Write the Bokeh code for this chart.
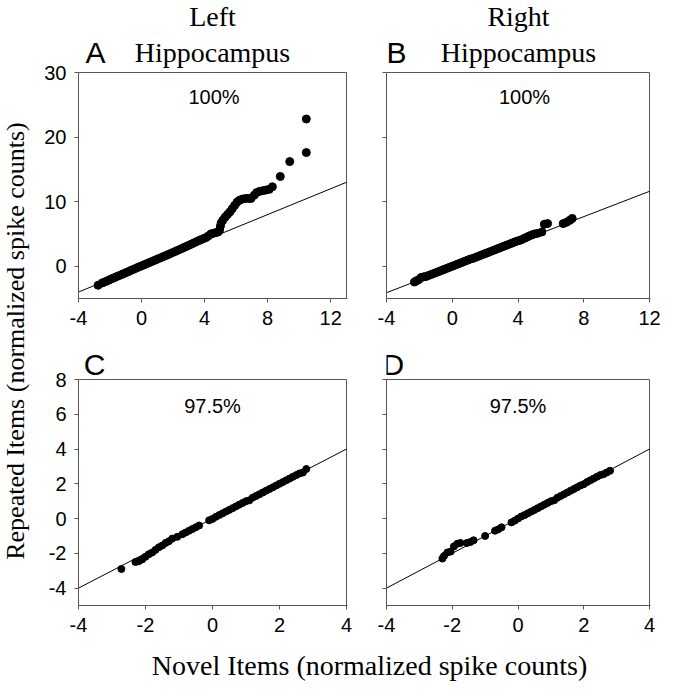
from math import pi
from bokeh.plotting import figure
from bokeh.layouts import row, column
from bokeh.models import Range1d, FixedTicker, CustomJSTickFormatter
from bokeh.core.properties import value
from bokeh.embed import file_html
from bokeh.resources import INLINE

# ---------------- data ----------------
a_x = [-2.76, -2.5, -2.35, -2.2, -2.05, -1.9, -1.75, -1.6, -1.45, -1.3,
       -1.15, -1.0, -0.85, -0.7, -0.55, -0.4, -0.25, -0.1, 0.05, 0.2,
       0.35, 0.5, 0.65, 0.8, 0.95, 1.1, 1.25, 1.4, 1.55, 1.7,
       1.85, 2.0, 2.15, 2.3, 2.45, 2.6, 2.75, 2.9, 3.05, 3.2,
       3.35, 3.5, 3.65, 3.8, 3.95,
       4.1, 4.25, 4.4, 4.55, 4.7, 4.85, 4.95, 5.0, 5.05, 5.15,
       5.3, 5.45, 5.6, 5.75, 5.9, 6.05, 6.2, 6.4, 6.6, 6.8,
       6.95, 7.15, 7.3, 7.5, 7.7, 7.9, 8.1, 8.3, 8.8, 9.4,
       10.45, 10.45]
a_y = [-2.95, -2.6, -2.45, -2.3, -2.12, -1.95, -1.8, -1.63, -1.48, -1.32,
       -1.17, -1.0, -0.85, -0.68, -0.52, -0.37, -0.2, -0.05, 0.1, 0.26,
       0.42, 0.57, 0.73, 0.88, 1.04, 1.2, 1.35, 1.5, 1.66, 1.82,
       1.98, 2.14, 2.3, 2.46, 2.62, 2.8, 2.96, 3.12, 3.3, 3.47,
       3.64, 3.82, 3.98, 4.15, 4.3,
       4.45, 4.7, 5.0, 5.1, 5.2, 5.3, 5.6, 6.2, 6.7, 7.1,
       7.6, 8.0, 8.4, 8.9, 9.4, 9.9, 10.2, 10.4, 10.5, 10.5,
       10.5, 11.0, 11.4, 11.6, 11.7, 11.8, 11.9, 12.3, 13.9, 16.2,
       17.6, 22.8]

b_x = [-2.3, -2.2, -2.05, -1.9, -1.75, -1.6, -1.45, -1.3, -1.15, -1.0,
       -0.85, -0.7, -0.55, -0.4, -0.25, -0.1, 0.05, 0.2, 0.35, 0.5,
       0.65, 0.8, 0.95, 1.1, 1.25, 1.4, 1.55, 1.7, 1.85, 2.0,
       2.15, 2.3, 2.45, 2.6, 2.75, 2.9, 3.05, 3.2, 3.35, 3.5,
       3.65, 3.8, 3.95, 4.1, 4.25, 4.4, 4.55, 4.7, 4.85, 5.0,
       5.2, 5.45, 5.6, 5.8, 6.75, 6.95, 7.15, 7.3]
b_y = [-2.45, -2.3, -2.1, -1.75, -1.65, -1.6, -1.45, -1.3, -1.15, -1.0,
       -0.85, -0.7, -0.55, -0.4, -0.25, -0.1, 0.05, 0.2, 0.35, 0.5,
       0.65, 0.8, 0.95, 1.1, 1.2, 1.35, 1.5, 1.65, 1.8, 1.95,
       2.1, 2.25, 2.4, 2.55, 2.7, 2.85, 3.0, 3.15, 3.3, 3.45,
       3.6, 3.75, 3.9, 4.0, 4.15, 4.35, 4.5, 4.7, 4.85, 5.0,
       5.1, 5.3, 6.5, 6.6, 6.6, 6.8, 7.1, 7.4]

c_x = [-2.72, -2.3, -2.2, -2.1, -2.0, -1.9, -1.8, -1.7, -1.6, -1.5,
       -1.4, -1.3, -1.2, -1.05, -0.9, -0.8, -0.7, -0.6, -0.5, -0.4,
       -0.1, 0.0, 0.1, 0.2, 0.3, 0.4, 0.5, 0.6, 0.7, 0.8,
       0.9, 1.0, 1.1, 1.2, 1.3, 1.4, 1.5, 1.6, 1.7, 1.8,
       1.9, 2.0, 2.1, 2.2, 2.3, 2.4, 2.5, 2.6, 2.7, 2.8]
c_y = [-2.9, -2.5, -2.45, -2.35, -2.2, -2.05, -1.95, -1.8, -1.65, -1.55,
       -1.4, -1.3, -1.15, -1.05, -0.9, -0.8, -0.7, -0.6, -0.5, -0.4,
       -0.1, -0.02, 0.1, 0.2, 0.3, 0.4, 0.5, 0.6, 0.7, 0.8,
       0.9, 1.0, 1.05, 1.2, 1.3, 1.4, 1.5, 1.6, 1.7, 1.8,
       1.9, 2.0, 2.1, 2.2, 2.3, 2.4, 2.5, 2.6, 2.65, 2.85]

d_x = [-2.3, -2.25, -2.15, -2.05, -1.95, -1.85, -1.75, -1.55, -1.45, -1.35,
       -1.0, -0.7, -0.6, -0.5, -0.2, -0.1, 0.0, 0.1, 0.2, 0.3,
       0.4, 0.5, 0.6, 0.7, 0.8, 0.9, 1.0, 1.1, 1.2, 1.3,
       1.4, 1.5, 1.6, 1.7, 1.8, 1.9, 2.0, 2.1, 2.2, 2.3,
       2.4, 2.5, 2.6, 2.7, 2.8]
d_y = [-2.3, -2.15, -1.95, -1.9, -1.6, -1.45, -1.4, -1.4, -1.35, -1.25,
       -1.0, -0.7, -0.62, -0.5, -0.22, -0.12, 0.0, 0.12, 0.2, 0.3,
       0.4, 0.5, 0.6, 0.7, 0.8, 0.9, 1.0, 1.05, 1.2, 1.3,
       1.4, 1.5, 1.6, 1.7, 1.8, 1.9, 1.98, 2.1, 2.2, 2.3,
       2.4, 2.5, 2.55, 2.65, 2.75]

# reference (identity / fit) lines
a_line_x, a_line_y = [-4, 13], [-4, 13]
b_line_x, b_line_y = [-4, 12], [-4.1, 11.6]
c_line_x, c_line_y = [-4, 4], [-4, 4]
d_line_x, d_line_y = [-4, 4], [-4, 4]

# axis limits of each panel
a_xlim, a_ylim = (-4, 13), (-5, 30)
b_xlim, b_ylim = (-4, 12), (-5, 30)
c_xlim, c_ylim = (-4, 4), (-5, 8)
d_xlim, d_ylim = (-4, 4), (-5, 8)

top_x_ticks = [-4, 0, 4, 8, 12]
top_y_ticks = [0, 10, 20, 30]
bot_x_ticks = [-4, -2, 0, 2, 4]
bot_y_ticks = [-4, -2, 0, 2, 4, 6, 8]

pct_top = "100%"
pct_bot = "97.5%"
col_titles = [("Left", "Hippocampus"), ("Right", "Hippocampus")]
panel_letters = ["A", "B", "C", "D"]
x_label = "Novel Items (normalized spike counts)"
y_label = "Repeated Items (normalized spike counts)"

# ---------------- styling / layout ----------------
SERIF = "Liberation Serif"
SANS = "Liberation Sans"
FRAME = "#555555"
TICK_PX = "20px"
BOX_PX = 226          # height of the boxed plotting area, px


def strip(w, h):
    f = figure(width=w, height=h, x_range=Range1d(0, w), y_range=Range1d(0, h),
               output_backend="svg", toolbar_location=None, min_border=0,
               x_axis_location=None, y_axis_location=None)
    f.grid.visible = False
    f.outline_line_color = None
    return f


def panel(xlim, ylim, xt, yt, fw, head_px, mbl, mbr, show_y=True):
    """Panel whose frame also covers head_px pixels above the axes box
    (room for the titles); the box is drawn with a quad, the y axis is bounded."""
    fw_px = fw + 1
    x_pad = (xlim[1] - xlim[0]) / fw      # one pixel, in data units
    y_scale = (ylim[1] - ylim[0]) / BOX_PX
    y_top = ylim[1] + head_px * y_scale
    p = figure(width=mbl + fw_px + mbr, height=head_px + BOX_PX + 40,
               x_range=Range1d(xlim[0], xlim[1] + x_pad), y_range=Range1d(ylim[0], y_top),
               output_backend="svg", toolbar_location=None,
               min_border_left=mbl, min_border_right=mbr,
               min_border_top=0, min_border_bottom=40)
    p.grid.visible = False
    p.outline_line_color = None
    p.xaxis.ticker = FixedTicker(ticks=xt)
    p.yaxis.ticker = FixedTicker(ticks=yt)
    p.yaxis.bounds = ylim
    for ax in (p.xaxis[0], p.yaxis[0]):
        ax.axis_line_color = FRAME
        ax.major_tick_line_color = FRAME
        ax.major_tick_in = 0
        ax.major_tick_out = 4
        ax.minor_tick_line_color = None
        ax.major_label_text_font = SANS
        ax.major_label_text_font_size = TICK_PX
        ax.major_label_text_color = "black"
        ax.major_label_standoff = 8
    p.xaxis.formatter = CustomJSTickFormatter(code="return tick.toString();")
    if show_y:
        p.yaxis.formatter = CustomJSTickFormatter(code="return tick.toString();")
    else:
        p.yaxis.formatter = CustomJSTickFormatter(code="return '';")
    p.quad(left=[xlim[0]], right=[xlim[1]], bottom=[ylim[0]], top=[ylim[1]],
           fill_color=None, line_color=FRAME, line_width=1)
    return p


def fill(p, xs, ys, lx, ly, size, label, lab_x, lab_y):
    p.line(lx, ly, line_color="black", line_width=1)
    p.scatter(xs, ys, size=size, marker="circle", fill_color="black", line_color="black")
    p.text(x=[lab_x], y=[lab_y], text=[label], text_font=value(SANS),
           text_font_size=TICK_PX, text_align="center", text_baseline="middle",
           text_color="black")


def words(p, xs, ys, texts, font, size):
    p.text(x=xs, y=ys, text=texts, text_font=value(font), text_font_size=size,
           text_align="center", text_baseline="middle", text_color="black")


pa = panel(a_xlim, a_ylim, top_x_ticks, top_y_ticks, 268, 72, 48, 7)
pb = panel(b_xlim, b_ylim, top_x_ticks, top_y_ticks, 263, 72, 32, 11, show_y=False)
pc = panel(c_xlim, c_ylim, bot_x_ticks, bot_y_ticks, 268, 41, 48, 7)
pd = panel(d_xlim, d_ylim, bot_x_ticks, bot_y_ticks, 263, 41, 32, 11, show_y=False)

fill(pa, a_x, a_y, a_line_x, a_line_y, 8, pct_top, 4.6, 26.2)
fill(pb, b_x, b_y, b_line_x, b_line_y, 8, pct_top, 4.4, 26.2)
fill(pc, c_x, c_y, c_line_x, c_line_y, 7, pct_bot, 0.0, 6.5)
fill(pd, d_x, d_y, d_line_x, d_line_y, 7, pct_bot, 0.0, 6.5)

# column titles and panel letters, above each box
words(pa, [4.5, 4.5], [38.64, 33.07], list(col_titles[0]), SERIF, "28px")
words(pb, [4.03, 4.03], [38.64, 33.07], list(col_titles[1]), SERIF, "28px")
words(pa, [-2.92], [33.02], [panel_letters[0]], SANS, "30px")
words(pb, [-3.39], [33.02], [panel_letters[1]], SANS, "30px")
words(pc, [-3.52], [8.89], [panel_letters[2]], SANS, "30px")
words(pd, [-3.79], [8.89], [panel_letters[3]], SANS, "30px")

# ---- bottom strip: x axis label ----
bot = strip(631, 36)
bot.text(x=[339], y=[16.5], text=[x_label], text_font=value(SERIF), text_font_size="28px",
         text_align="center", text_baseline="middle", text_color="black")

# ---- left strip: y axis label ----
ylab = strip(30, 681)
ylab.text(x=[15.2], y=[340.5], text=[y_label], angle=pi / 2, text_font=value(SERIF),
          text_font_size="26px", text_align="center", text_baseline="middle",
          text_color="black")

layout = row(ylab, column(row(pa, pb), row(pc, pd), bot))

open("out.html", "w").write(file_html(layout, INLINE))
